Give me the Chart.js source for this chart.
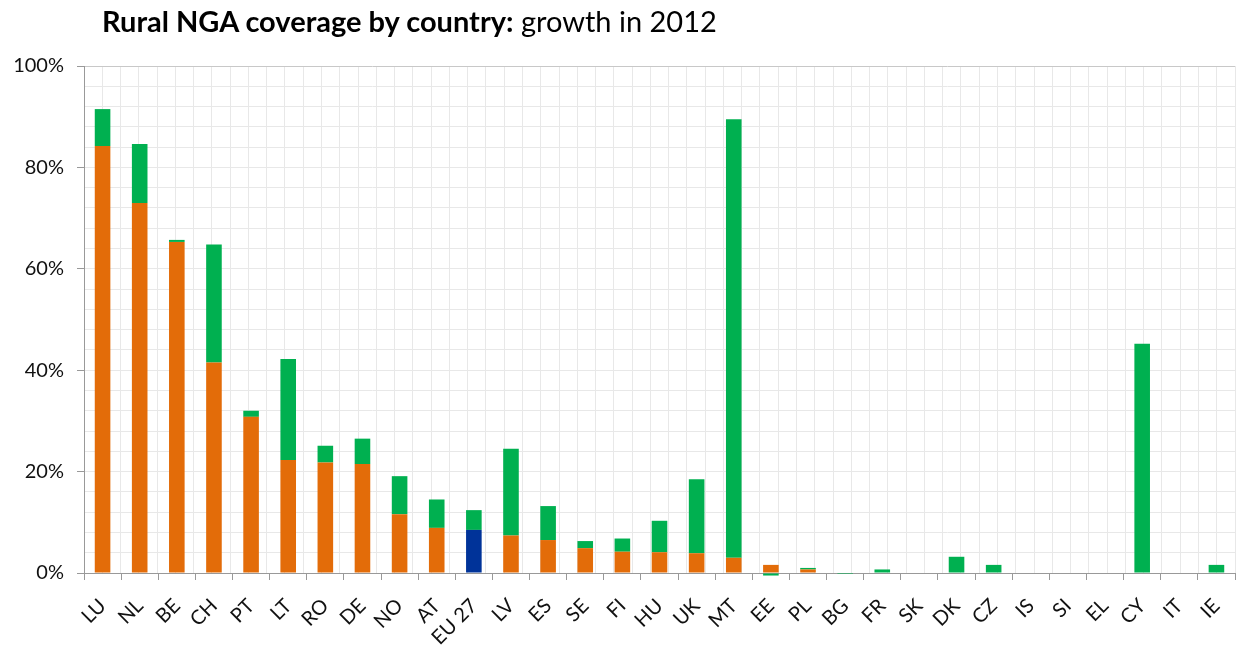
<!DOCTYPE html>
<html>
<head>
<meta charset="utf-8">
<script src="https://cdn.jsdelivr.net/npm/chart.js@4"></script>
<style>
  html, body { margin: 0; padding: 0; background: #fff; }
  #wrap { position: relative; width: 1237px; height: 648px; }
  #title { position: absolute; left: 102px; top: 3px; font-family: Lato, "Open Sans", sans-serif; font-size: 29px; color: #000; white-space: nowrap; }
  #title b { font-weight: bold; }
</style>
</head>
<body>
<div id="wrap">
  <div id="title"><b>Rural NGA coverage by country:</b> growth in 2012</div>
  <canvas id="chart" width="1237" height="648"></canvas>
</div>
<script>
// categories (countries) and values in %
const countries = ["LU","NL","BE","CH","PT","LT","RO","DE","NO","AT","EU 27","LV","ES","SE","FI","HU","UK","MT","EE","PL","BG","FR","SK","DK","CZ","IS","SI","EL","CY","IT","IE"];
const coverage2011 = [84.2,73.0,65.3,41.5,30.8,22.3,21.8,21.5,11.6,8.9,8.5,7.4,6.5,4.9,4.2,4.1,3.9,3.0,1.6,0.7,0,0,0,0,0,0,0,0,0,0,0];
const growth2012 = [7.3,11.6,0.4,23.3,1.2,19.9,3.3,5.0,7.5,5.6,3.9,17.1,6.7,1.4,2.6,6.2,14.6,86.5,-0.5,0.3,-0.2,0.7,0,3.2,1.6,0,0,0,45.2,0,1.6];
const yTicks = [0, 20, 40, 60, 80, 100];

const ORANGE = "#E36C09";
const GREEN = "#00B050";
const BLUE = "#003399";
const FONT = "Lato, 'Open Sans', sans-serif";

const baseColors = countries.map(c => c === "EU 27" ? BLUE : ORANGE);

new Chart(document.getElementById("chart"), {
  type: "bar",
  data: {
    labels: countries,
    datasets: [
      {
        label: "2011",
        data: coverage2011,
        backgroundColor: baseColors,
        categoryPercentage: 1,
        barPercentage: 0.42
      },
      {
        label: "growth 2012",
        data: growth2012,
        backgroundColor: GREEN,
        categoryPercentage: 1,
        barPercentage: 0.42,
        clip: false
      }
    ]
  },
  options: {
    responsive: false,
    animation: false,
    layout: { padding: { top: 66, right: 2, left: 0, bottom: 0 } },
    plugins: {
      legend: { display: false },
      title: { display: false },
      tooltip: { enabled: false }
    },
    scales: {
      x: {
        stacked: true,
        grid: { drawOnChartArea: false, tickLength: 7, tickColor: "#999" },
        border: { color: "#999" },
        ticks: {
          color: "#111",
          font: { family: FONT, size: 20 },
          minRotation: 45,
          maxRotation: 45,
          autoSkip: false,
          padding: 14
        },
        afterFit: s => { s.height = 75; s.paddingLeft = 0; s.paddingRight = 0; }
      },
      xg: {
        type: "linear",
        position: "bottom",
        min: 0,
        max: countries.length,
        ticks: { display: false, stepSize: 0.5 },
        grid: { color: "#e8e8e8", drawTicks: false },
        border: { display: false },
        afterFit: s => { s.height = 0; s.paddingLeft = 0; s.paddingRight = 0; }
      },
      y: {
        stacked: true,
        min: 0,
        max: 100,
        ticks: {
          stepSize: 4,
          autoSkip: false,
          color: "#111",
          font: { family: FONT, size: 20 },
          padding: 13,
          callback: v => yTicks.includes(v) ? v + "%" : ""
        },
        grid: {
          color: c => c.tick && c.tick.value === 100 ? "#c8c8c8" : "#e8e8e8",
          tickLength: 7,
          tickColor: c => c.tick && yTicks.includes(c.tick.value) ? "#999" : "rgba(0,0,0,0)"
        },
        border: { color: "#999" },
        afterFit: s => { s.width = 84; }
      }
    }
  }
});
</script>
</body>
</html>
